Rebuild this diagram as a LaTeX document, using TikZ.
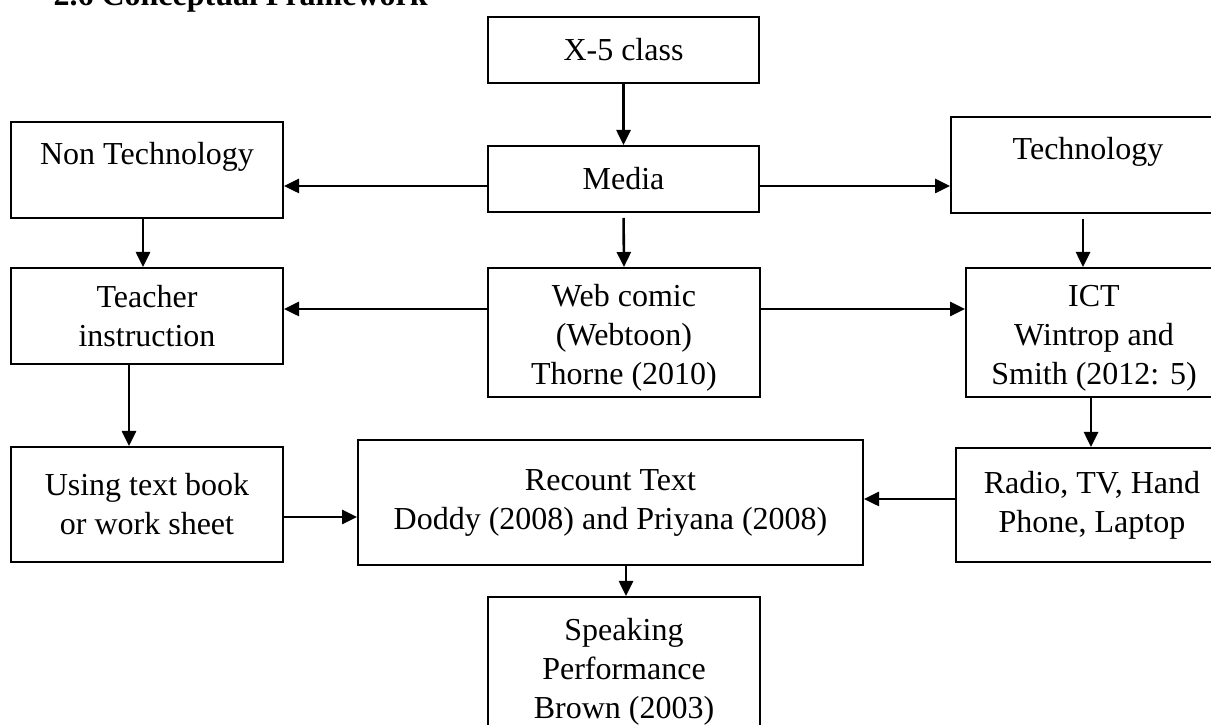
\documentclass[tikz,border=0pt]{standalone}
\usepackage{fontspec}
\setmainfont{Liberation Serif}
\usetikzlibrary{arrows.meta}
\begin{document}
\begin{tikzpicture}[x=1pt,y=1pt,
  box/.style={draw, line width=2pt, inner sep=0pt, align=center,
    font=\fontsize{32}{39}\selectfont},
  arr/.style={line width=2.6pt, -{Triangle[length=15pt,width=14pt]}}]
\useasboundingbox (0,0) rectangle (1211,725);
\clip (0,0) rectangle (1211,725);
\node[anchor=base west, font=\fontsize{32}{39}\selectfont\bfseries] (title) at (50,719) {2.6 Conceptual Framework};
\node[box, minimum width=271pt, minimum height=66pt] (x5) at (623.5,675) {X-5 class};
\node[box, minimum width=271pt, minimum height=66pt] (media) at (623.5,546) {Media};
\node[box, minimum width=272pt, minimum height=96pt] (nontech) at (147,555) {Non Technology\\[-6pt]~};
\node[box, minimum width=274pt, minimum height=96pt] (tech) at (1088,560) {Technology\\[-6pt]~};
\node[box, minimum width=272pt, minimum height=96pt] (teacher) at (147,409) {Teacher\\instruction};
\node[box, minimum width=272pt, minimum height=129pt] (web) at (624,392.5) {\rule{0pt}{32pt}Web comic\\(Webtoon)\\Thorne (2010)};
\node[box, minimum width=256pt, minimum height=129pt] (ict) at (1094,392.5) {\rule{0pt}{32pt}ICT\\Wintrop and\\Smith (2012: 5)};
\node[box, minimum width=272pt, minimum height=115pt] (using) at (147,220.5) {Using text book\\or work sheet};
\node[box, minimum width=505pt, minimum height=125pt] (recount) at (610.5,222.5) {Recount Text\\Doddy (2008) and Priyana (2008)};
\node[box, minimum width=272pt, minimum height=114pt] (radio) at (1092,220) {Radio, TV, Hand\\Phone, Laptop};
\node[box, minimum width=272pt, minimum height=142pt] (speaking) at (624,57) {\rule{0pt}{30pt}Speaking\\Performance\\Brown (2003)};
% connectors
\draw[arr] (x5.south) -- (media.north);
\coordinate (m1) at ([yshift=-7pt]media.west);
\draw[arr] (m1) -- (m1 -| nontech.east);
\coordinate (m2) at ([yshift=-7pt]media.east);
\draw[arr] (m2) -- (m2 -| tech.west);
\coordinate (n1) at ([xshift=-4pt]nontech.south);
\draw[arr] (n1) -- (n1 |- teacher.north);
\draw[arr, shorten <=5pt] (media.south) -- (web.north);
\coordinate (t1) at ([xshift=-5pt]tech.south);
\draw[arr, shorten <=5pt] (t1) -- (t1 |- ict.north);
\coordinate (w1) at ([yshift=23.5pt]web.west);
\draw[arr] (w1) -- (w1 -| teacher.east);
\coordinate (w2) at ([yshift=23.5pt]web.east);
\draw[arr] (w2) -- (w2 -| ict.west);
\coordinate (c1) at ([xshift=-18pt]teacher.south);
\draw[arr] (c1) -- (c1 |- using.north);
\coordinate (i1) at ([xshift=-3pt]ict.south);
\draw[arr] (i1) -- (i1 |- radio.north);
\coordinate (u1) at ([yshift=-12.5pt]using.east);
\draw[arr] (u1) -- (u1 -| recount.west);
\coordinate (q1) at ([yshift=6pt]radio.west);
\draw[arr] (q1) -- (q1 -| recount.east);
\coordinate (r1) at ([xshift=15.5pt]recount.south);
\draw[arr] (r1) -- (r1 |- speaking.north);
\end{tikzpicture}
\end{document}
